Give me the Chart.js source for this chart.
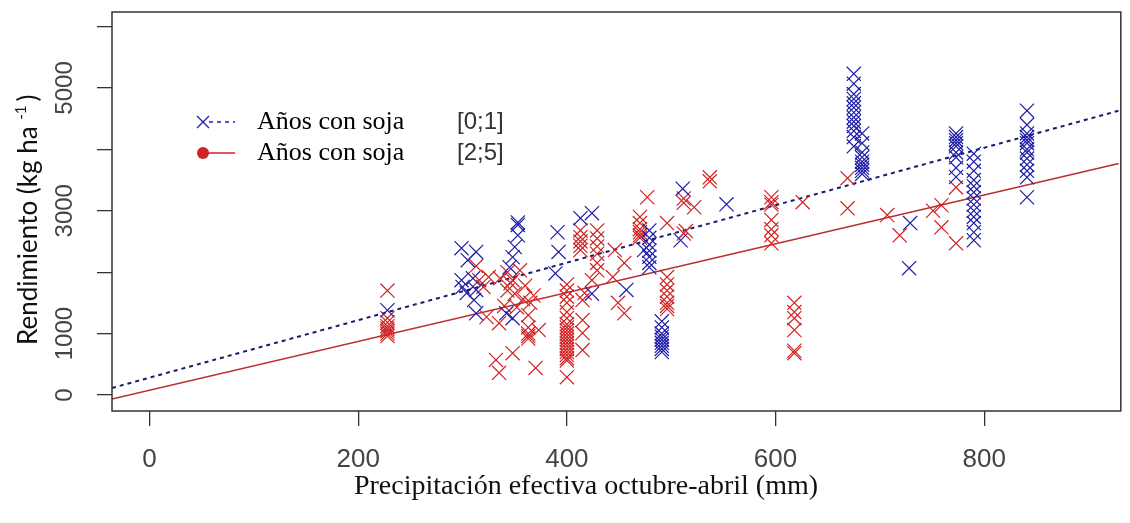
<!DOCTYPE html>
<html>
<head>
<meta charset="utf-8">
<title>Rendimiento vs precipitación</title>
<script src="https://cdn.jsdelivr.net/npm/chart.js@4.4.0/dist/chart.umd.min.js"></script>
<style>
  html, body { margin: 0; padding: 0; background: #fff; }
  #wrap { position: relative; width: 1130px; height: 523px; }
</style>
</head>
<body>
<div id="wrap"><canvas id="chart"></canvas></div>
<script>
// ── Data ─────────────────────────────────────────────────────
const seriesNames  = ['Años con soja', 'Años con soja'];
const seriesGroups = ['[0;1]', '[2;5]'];

const xTicks = [0, 200, 400, 600, 800];
const yTicks = [0, 1000, 2000, 3000, 4000, 5000, 6000];
const yTickLabels = ['0', '1000', '', '3000', '', '5000', ''];

// years with soybean [0;1]
const blueX = [
  228,
  299, 313, 305, 299, 310, 300, 313, 304, 311, 313,
  342, 348, 353, 353, 353, 350, 348, 345,
  391, 392, 389,
  413, 424, 424,
  457,
  474, 479, 479, 479, 479, 479, 479, 479,
  491, 491, 491, 491, 491, 491, 491, 491, 491,
  511, 509,
  553,
  675, 675, 675, 675, 675, 675, 675, 675, 675, 675, 675, 675, 675,
  683, 683, 683, 683, 683, 683, 683, 683, 683,
  728, 729,
  773, 773, 773, 773, 773, 773, 773, 773, 773,
  790, 790, 790, 790, 790, 790, 790, 790, 790, 790, 790, 790, 790,
  841, 841, 841, 841, 841, 841, 841, 841, 841, 841, 841, 841, 841
];
const blueY = [
  1380,
  2390, 2330, 2195, 1870, 1900, 1760, 1710, 1660, 1545, 1330,
  1330, 1250, 2810, 2770, 2600, 2410, 2245, 2080,
  2650, 2330, 1980,
  2880, 2960, 1650,
  1710,
  2360, 2680, 2560, 2450, 2350, 2250, 2150, 2080,
  1200, 1100, 1000, 950, 900, 850, 800, 750, 700,
  3360, 2520,
  3105,
  5230, 5070, 4900, 4820, 4750, 4680, 4600, 4520, 4450, 4380, 4300, 4200, 4050,
  4260, 4100, 3950, 3870, 3800, 3750, 3700, 3650, 3600,
  2065, 2800,
  4260, 4200, 4150, 4100, 4050, 3950, 3870, 3700, 3550,
  3930, 3800, 3650, 3500, 3400, 3300, 3200, 3100, 3000, 2900, 2800, 2650, 2520,
  4630, 4400, 4260, 4200, 4150, 4100, 4000, 3950, 3850, 3750, 3650, 3545, 3220
];

// years with soybean [2;5]
const redX = [
  228, 228, 228, 228, 228, 228, 228, 228,
  313, 316, 325, 320, 323, 335, 332, 335, 348, 370, 400,
  336, 343, 355, 348, 346, 360, 343, 350, 368, 358, 365, 340, 352,
  363, 363, 363, 363, 363, 373,
  400, 400, 400, 400, 400, 400, 400, 400, 400, 400, 400, 400, 400, 400, 400, 400, 400, 400, 400,
  415, 415, 415, 415, 417,
  413, 413, 413, 413, 413,
  429, 429, 429, 429, 429, 429, 424,
  446, 455, 444, 449, 455,
  470, 470, 470, 470, 470, 470,
  477, 496,
  496, 496, 496, 496, 496, 496, 496,
  512, 512, 512, 514, 522,
  537, 537,
  596, 596, 596, 596, 596, 596, 596,
  626,
  618, 618, 618, 618, 618, 618,
  669, 669, 707, 719, 751, 759, 759, 773, 773
];
const redY = [
  1700, 1250, 1180, 1120, 1080, 1040, 1000, 960,
  2100, 1870, 1920, 1760, 1270, 1170, 570, 360, 680, 440, 290,
  1900, 2000, 2030, 1870, 1820, 1780, 1700, 1650, 1620, 1560, 1500, 1450, 1430,
  1300, 1100, 1000, 960, 920, 1057,
  1800, 1700, 1600, 1500, 1350, 1250, 1150, 1100, 1050, 1000, 950, 900, 850, 800, 750, 700, 650, 600, 560,
  1545, 1220, 1008, 732, 1660,
  2680, 2570, 2500, 2430, 2360,
  2680, 2550, 2420, 2300, 2150, 2030, 1870,
  2360, 2150, 1920, 1500, 1330,
  2900, 2800, 2700, 2650, 2600, 2560,
  3220, 2800,
  1920, 1800, 1700, 1600, 1500, 1450, 1400,
  3200, 3130, 2630, 2670, 3057,
  3545, 3480,
  3220, 3140, 3100, 2850, 2700, 2600, 2470,
  3140,
  1500, 1350, 1250, 1057, 720, 680,
  3530, 3040, 2930, 2600, 3000, 3090, 2730, 3380, 2470
];

// fitted lines, end points read at the plot edges
const blueFitX = [-36, 929];
const blueFitY = [114, 4630];
const redFitX  = [-36, 929];
const redFitY  = [-65, 3770];

const BLUE = '#1f1fa8';
const RED  = '#d02424';
const AXIS = '#333333';

const toPoints = (xs, ys) => xs.map((x, i) => ({ x, y: ys[i] }));

// ── Plugin: frame, rotated y labels, axis titles, legend ─────
const decorations = {
    id: 'decorations',
    afterDraw(chart) {
        const { ctx, chartArea: a, scales } = chart;
        ctx.save();

        // frame
        ctx.strokeStyle = AXIS;
        ctx.lineWidth = 1.5;
        ctx.strokeRect(a.left, a.top, a.right - a.left + 2, a.bottom - a.top);

        // y tick labels, rotated like R
        ctx.fillStyle = '#444';
        ctx.font = '24px "Liberation Sans", Arial, sans-serif';
        ctx.textAlign = 'center';
        ctx.textBaseline = 'middle';
        yTicks.forEach((v, i) => {
            if (!yTickLabels[i]) return;
            const py = scales.y.getPixelForValue(v);
            ctx.save();
            ctx.translate(65, py);
            ctx.rotate(-Math.PI / 2);
            ctx.fillText(yTickLabels[i], 0, 0);
            ctx.restore();
        });

        // y title with superscript
        ctx.save();
        ctx.translate(37, 345);
        ctx.rotate(-Math.PI / 2);
        ctx.fillStyle = '#111';
        ctx.textAlign = 'left';
        ctx.textBaseline = 'alphabetic';
        ctx.font = '26px Lato, "Open Sans", sans-serif';
        const main = 'Rendimiento (kg ha ';
        ctx.fillText(main, 0, 0);
        let w = ctx.measureText(main).width;
        ctx.font = '15px Lato, "Open Sans", sans-serif';
        ctx.fillText('-1', w, -11);
        w += ctx.measureText('-1').width + 4;
        ctx.font = '26px Lato, "Open Sans", sans-serif';
        ctx.fillText(')', w, 0);
        ctx.restore();

        // x title
        ctx.fillStyle = '#111';
        ctx.font = '28px "Liberation Serif", "Times New Roman", serif';
        ctx.textAlign = 'center';
        ctx.textBaseline = 'alphabetic';
        ctx.fillText('Precipitación efectiva octubre-abril (mm)', 586, 494);

        // legend
        const rows = [
            { y: 122, color: BLUE, dash: [4, 4], marker: 'x' },
            { y: 153, color: RED,  dash: [],     marker: 'dot' }
        ];
        rows.forEach((r, i) => {
            ctx.strokeStyle = r.color;
            ctx.lineWidth = 1.5;
            ctx.setLineDash(r.dash);
            ctx.beginPath();
            ctx.moveTo(r.marker === 'x' ? 209 : 203, r.y);
            ctx.lineTo(235, r.y);
            ctx.stroke();
            ctx.setLineDash([]);
            if (r.marker === 'x') {
                ctx.lineWidth = 1.3;
                ctx.beginPath();
                ctx.moveTo(197, r.y - 6); ctx.lineTo(209, r.y + 6);
                ctx.moveTo(197, r.y + 6); ctx.lineTo(209, r.y - 6);
                ctx.stroke();
            } else {
                ctx.fillStyle = r.color;
                ctx.beginPath();
                ctx.arc(203, r.y, 6, 0, Math.PI * 2);
                ctx.fill();
            }
            ctx.fillStyle = '#000';
            ctx.textAlign = 'left';
            ctx.font = '26px "Liberation Serif", "Times New Roman", serif';
            ctx.fillText(seriesNames[i], 257, r.y + 7);
            ctx.fillStyle = '#333';
            ctx.font = '24px "Liberation Sans", Arial, sans-serif';
            ctx.fillText(seriesGroups[i], 457, r.y + 7);
        });

        ctx.restore();
    }
};

new Chart(document.getElementById('chart'), {
    type: 'scatter',
    data: {
        datasets: [
            {
                label: seriesNames[0] + ' ' + seriesGroups[0],
                data: toPoints(blueX, blueY),
                pointStyle: 'crossRot',
                pointRadius: 10,
                borderColor: BLUE,
                backgroundColor: BLUE,
                pointBorderWidth: 1.2
            },
            {
                label: seriesNames[1] + ' ' + seriesGroups[1],
                data: toPoints(redX, redY),
                pointStyle: 'crossRot',
                pointRadius: 10,
                borderColor: RED,
                backgroundColor: RED,
                pointBorderWidth: 1.2
            },
            {
                label: 'fit [0;1]',
                data: toPoints(blueFitX, blueFitY),
                showLine: true,
                pointRadius: 0,
                borderColor: '#1a1a70',
                borderWidth: 2,
                borderDash: [4, 4]
            },
            {
                label: 'fit [2;5]',
                data: toPoints(redFitX, redFitY),
                showLine: true,
                pointRadius: 0,
                borderColor: '#b83030',
                borderWidth: 1.5
            }
        ]
    },
    options: {
        responsive: true,
        maintainAspectRatio: false,
        animation: false,
        layout: { padding: { top: 12, right: 0, left: 0, bottom: 0 } },
        plugins: {
            legend: { display: false },
            tooltip: { enabled: false }
        },
        scales: {
            x: {
                type: 'linear',
                min: -36,
                max: 929,
                afterFit: (s) => { s.height = 112; },
                afterBuildTicks: (s) => { s.ticks = xTicks.map(v => ({ value: v })); },
                border: { display: false },
                grid: { drawOnChartArea: false, drawTicks: true, tickLength: 15, color: AXIS, lineWidth: 1.3 },
                ticks: {
                    color: '#444',
                    padding: 18,
                    maxRotation: 0,
                    font: { family: '"Liberation Sans", Arial, sans-serif', size: 26 }
                }
            },
            y: {
                type: 'linear',
                min: -261,
                max: 6237,
                afterFit: (s) => { s.width = 112; },
                afterBuildTicks: (s) => { s.ticks = yTicks.map(v => ({ value: v })); },
                border: { display: false },
                grid: { drawOnChartArea: false, drawTicks: true, tickLength: 15, color: AXIS, lineWidth: 1.3 },
                ticks: { display: false }
            }
        }
    },
    plugins: [decorations]
});
</script>
</body>
</html>
